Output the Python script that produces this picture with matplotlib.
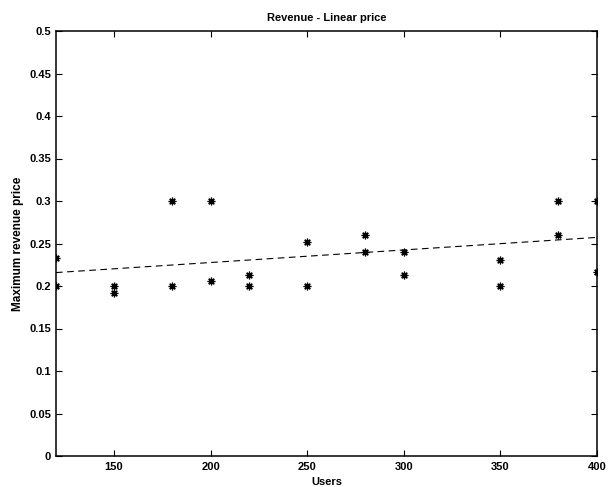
import numpy as np
import matplotlib
matplotlib.use('Agg')
import matplotlib.pyplot as plt

plt.rcParams['font.family'] = ['Liberation Sans', 'DejaVu Sans']

# data
users = [120, 120, 150, 150, 180, 180, 200, 200, 220, 220, 250, 250,
         280, 280, 300, 300, 350, 350, 380, 380, 400, 400]
price = [0.2335, 0.200, 0.200, 0.192, 0.300, 0.200, 0.300, 0.206, 0.2125, 0.200, 0.2515, 0.200,
         0.2605, 0.240, 0.240, 0.213, 0.231, 0.200, 0.300, 0.2605, 0.300, 0.2165]
fit_users = [120, 400]
fit_price = [0.2158, 0.2572]

x_ticks = [150, 200, 250, 300, 350, 400]
y_ticks = [0, 0.05, 0.1, 0.15, 0.2, 0.25, 0.3, 0.35, 0.4, 0.45, 0.5]
y_labels = ['0', '0.05', '0.1', '0.15', '0.2', '0.25', '0.3', '0.35', '0.4', '0.45', '0.5']

fig = plt.figure(figsize=(6.13, 4.87), dpi=100)
ax = fig.add_axes([56/613, 31/487, 541/613, 425/487])

ax.plot(users, price, linestyle='none', marker=(8, 2, 0), markersize=5.5,
        markeredgewidth=0.9, color='black')
ax.plot(fit_users, fit_price, color='black', linewidth=0.8, dashes=(6, 4))

ax.set_xlim(120, 400)
ax.set_ylim(0, 0.5)
ax.set_xticks(x_ticks)
ax.set_yticks(y_ticks)
ax.set_yticklabels(y_labels)
ax.tick_params(direction='in', top=True, right=True, length=4, width=0.8,
               labelsize=8)
ax.tick_params(axis='x', pad=4.5)
for lab in ax.get_xticklabels() + ax.get_yticklabels():
    lab.set_fontweight('bold')
for s in ax.spines.values():
    s.set_linewidth(1.1)

ax.set_title('Revenue - Linear price', fontsize=8, fontweight='bold', pad=7.5)
ax.set_xlabel('Users', fontsize=8, fontweight='bold', labelpad=3.5)
ax.set_ylabel('Maximum revenue price', fontsize=8.5, fontweight='bold', labelpad=4)

fig.savefig('out.png', dpi=100)
